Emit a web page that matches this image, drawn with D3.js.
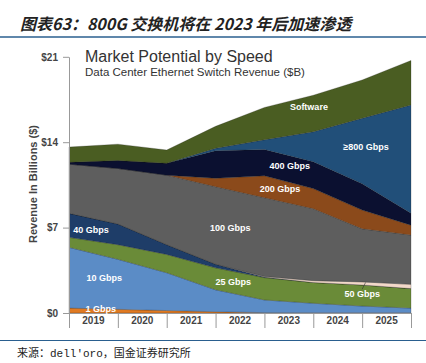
<!DOCTYPE html>
<html>
<head>
<meta charset="utf-8">
<script src="https://cdn.jsdelivr.net/npm/d3@7/dist/d3.min.js"></script>
<style>
  body { margin: 0; background: #fff; }
  svg { display: block; }
</style>
</head>
<body>
<svg id="canvas"></svg>
<script>
// year bands and the points the areas pass through (band edges)
var years = ['2019', '2020', '2021', '2022', '2023', '2024', '2025'];
var points = [2019, 2020, 2021, 2022, 2023, 2024, 2025, 2026];
var yTicks = [0, 7, 14, 21];

var speeds = ['1 Gbps', '10 Gbps', '25 Gbps', '40 Gbps', '50 Gbps', '100 Gbps', '200 Gbps', '400 Gbps', '\u2265800 Gbps', 'Software'];

// revenue in $B
var gbps1    = [0.4, 0.3, 0.2, 0.1, 0.03, 0.02, 0.02, 0.02];
var gbps10   = [4.98, 4.1, 3.1, 1.8, 1.04, 0.78, 0.55, 0.38];
var gbps25   = [0.82, 1.2, 1.5, 1.8, 1.83, 1.7, 1.73, 1.6];
var gbps40   = [1.97, 1.7, 0.8, 0.3, 0.05, 0, 0, 0];
var gbps50   = [0, 0, 0, 0, 0.05, 0.15, 0.25, 0.35];
var gbps100  = [4.03, 4.55, 5.7, 6.35, 6.45, 5.9, 4.35, 4.04];
var gbps200  = [0, 0, 0, 0.7, 1.8, 1.65, 1.54, 0.81];
var gbps400  = [0.15, 0.65, 0.97, 2.25, 2.15, 2.2, 2.16, 0.97];
var gbps800  = [0, 0, 0, 0.2, 0.8, 2.46, 5.36, 8.88];
var software = [1.25, 1.34, 1.09, 1.8, 2.65, 2.99, 3.14, 3.65];

var series = [gbps1, gbps10, gbps25, gbps40, gbps50, gbps100, gbps200, gbps400, gbps800, software];
var colors = ['#e07a22', '#5b8cc6', '#6a8b38', '#1e3d68', '#f2d8c9', '#5e5e5e', '#8b4a1b', '#0b1030', '#214f79', '#4a5d22'];

// where each label sits, in data units (year, $B)
var labelSpots = [
  { text: 'Software', x: 2023.91, y: 16.9 },
  { text: '\u2265800 Gbps', x: 2025.08, y: 13.6 },
  { text: '400 Gbps', x: 2023.52, y: 12.1 },
  { text: '200 Gbps', x: 2023.32, y: 10.15 },
  { text: '100 Gbps', x: 2022.3, y: 6.95 },
  { text: '40 Gbps', x: 2019.45, y: 6.8 },
  { text: '10 Gbps', x: 2019.72, y: 2.85 },
  { text: '25 Gbps', x: 2022.36, y: 2.52 },
  { text: '50 Gbps', x: 2025.0, y: 1.55 },
  { text: '1 Gbps', x: 2019.65, y: 0.3 }
];

var width = 426, height = 363;
var svg = d3.select('#canvas').attr('width', width).attr('height', height);

// page header
svg.append('text')
  .attr('x', 20).attr('y', 30)
  .attr('font-family', '"Noto Sans CJK SC", sans-serif')
  .attr('font-size', 16).attr('font-weight', 'bold').attr('font-style', 'italic')
  .attr('fill', '#222')
  .text('图表63：800G 交换机将在 2023 年后加速渗透');
svg.append('line')
  .attr('x1', 0).attr('x2', width).attr('y1', 37).attr('y2', 37)
  .attr('stroke', '#2a5f8f').attr('stroke-width', 1.5);

var x = d3.scaleLinear().domain([2019, 2026]).range([69, 411]);
var xBand = d3.scaleBand().domain(years).range([69, 411]);
var y = d3.scaleLinear().domain([0, 21]).range([313, 56.8]);

var rows = points.map(function (p, i) {
  var row = { x: p };
  speeds.forEach(function (s, j) { row[s] = series[j][i]; });
  return row;
});
var stacked = d3.stack().keys(speeds)(rows);

var area = d3.area()
  .x(function (d) { return x(d.data.x); })
  .y0(function (d) { return y(d[0]); })
  .y1(function (d) { return y(d[1]); });

svg.append('g').selectAll('path')
  .data(stacked)
  .enter()
  .append('path')
  .attr('d', area)
  .attr('fill', function (d, i) { return colors[i]; })
  .attr('stroke', 'rgba(20,20,20,0.45)')
  .attr('stroke-width', 0.5);

// chart titles
svg.append('text')
  .attr('x', 85).attr('y', 62)
  .attr('font-family', '"Liberation Sans", Arial, sans-serif')
  .attr('font-size', 16).attr('fill', '#333')
  .text('Market Potential by Speed');
svg.append('text')
  .attr('x', 85).attr('y', 76)
  .attr('font-family', '"Liberation Sans", Arial, sans-serif')
  .attr('font-size', 11.5).attr('fill', '#333')
  .text('Data Center Ethernet Switch Revenue ($B)');

// y axis
var yAxis = svg.append('g')
  .attr('transform', 'translate(69,0)')
  .call(d3.axisLeft(y).tickValues(yTicks).tickFormat(function (d) { return '$' + d; }).tickSize(6).tickSizeOuter(0));
yAxis.select('.domain').attr('stroke', '#999');
yAxis.selectAll('.tick line').attr('stroke', '#999');
yAxis.selectAll('.tick text')
  .attr('font-family', '"Liberation Sans", Arial, sans-serif')
  .attr('font-size', 10).attr('font-weight', 'bold').attr('fill', '#444')
  .attr('x', -11);

svg.append('text')
  .attr('transform', 'translate(37,184) rotate(-90)')
  .attr('text-anchor', 'middle')
  .attr('font-family', '"Liberation Sans", Arial, sans-serif')
  .attr('font-size', 11).attr('font-weight', 'bold').attr('fill', '#444')
  .text('Revenue In Billions ($)');

// x axis: separators at band edges, year labels in the bands
var xSep = svg.append('g')
  .attr('transform', 'translate(0,313)')
  .call(d3.axisBottom(x).tickValues(points).tickFormat('').tickSize(15).tickSizeOuter(0));
xSep.select('.domain').attr('stroke', '#999');
xSep.selectAll('.tick line').attr('stroke', '#999');

var xLab = svg.append('g')
  .attr('transform', 'translate(0,313)')
  .call(d3.axisBottom(xBand).tickSize(0).tickPadding(4));
xLab.select('.domain').remove();
xLab.selectAll('.tick text')
  .attr('font-family', '"Liberation Sans", Arial, sans-serif')
  .attr('font-size', 10).attr('font-weight', 'bold').attr('fill', '#444');

// layer labels
svg.append('line')
  .attr('x1', x(2025.0)).attr('y1', y(1.95))
  .attr('x2', x(2025.07)).attr('y2', y(2.5))
  .attr('stroke', '#333').attr('stroke-width', 0.6);

svg.append('g').selectAll('text')
  .data(labelSpots)
  .enter()
  .append('text')
  .attr('x', function (d) { return x(d.x); })
  .attr('y', function (d) { return y(d.y); })
  .attr('dy', '0.35em')
  .attr('text-anchor', 'middle')
  .attr('font-family', '"Liberation Sans", Arial, sans-serif')
  .attr('font-size', 9).attr('font-weight', 'bold').attr('fill', '#fff')
  .text(function (d) { return d.text; });

// footer
svg.append('line')
  .attr('x1', 0).attr('x2', width).attr('y1', 340.5).attr('y2', 340.5)
  .attr('stroke', '#2a5f8f').attr('stroke-width', 1);
svg.append('text')
  .attr('x', 17).attr('y', 357)
  .attr('font-family', '"Liberation Mono", "Noto Sans CJK SC", monospace')
  .attr('font-size', 11).attr('fill', '#222')
  .text('来源：dell\'oro，国金证券研究所');
</script>
</body>
</html>
